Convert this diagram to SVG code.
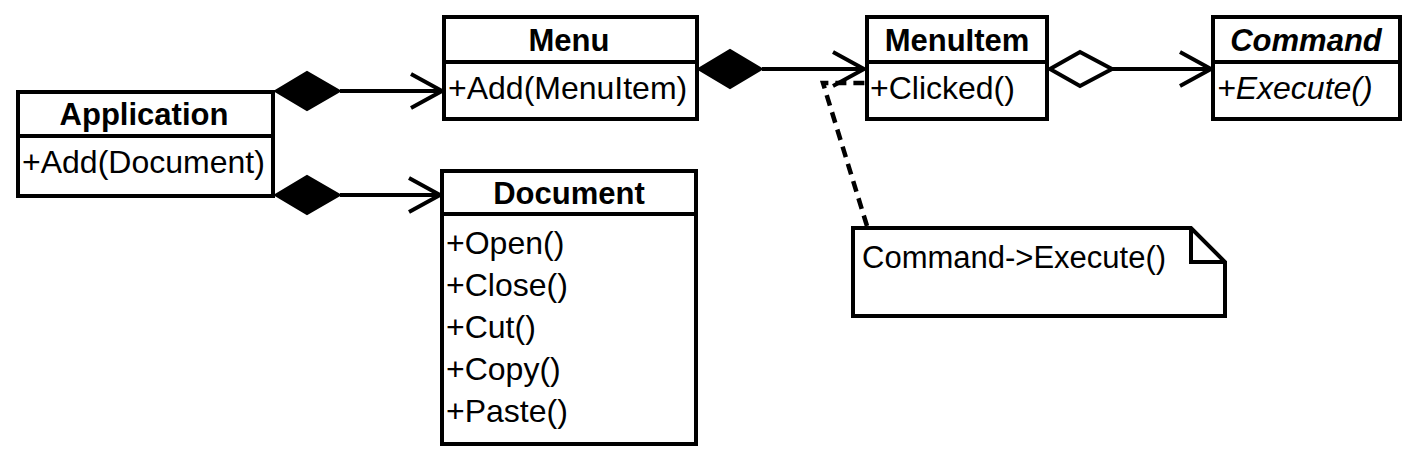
<svg xmlns="http://www.w3.org/2000/svg" width="1419" height="459" viewBox="0 0 1419 459">
<style>
.box{fill:#fff;stroke:#000;stroke-width:4}
.sep{stroke:#000;stroke-width:4}
.t{font-family:"Liberation Sans",Arial,sans-serif;font-size:32px;fill:#000}
.b{font-weight:bold;text-anchor:middle;font-size:31px}
.i{font-style:italic}
.ln{fill:none;stroke:#000;stroke-width:4}
.fd{fill:#000;stroke:#000;stroke-width:2}
.hd{fill:#fff;stroke:#000;stroke-width:4}
.ar{fill:none;stroke:#000;stroke-width:4;stroke-linejoin:miter}
.dash{fill:none;stroke:#000;stroke-width:4.5;stroke-dasharray:11 7}
</style>
<rect width="1419" height="459" fill="#fff"/>
<g id="connectors">
  <path class="ln" d="M340,91 H442"/>
  <path class="fd" d="M275,91 L307,72 L340,91 L307,110 Z"/>
  <path class="ar" d="M411,74 L442,91 L411,108"/>
  <path class="ln" d="M340,195 H440"/>
  <path class="fd" d="M275,195 L307,176 L340,195 L307,214 Z"/>
  <path class="ar" d="M409,178 L440,195 L409,212"/>
  <path class="ln" d="M762,69 H864"/>
  <path class="fd" d="M698,69 L730,50 L762,69 L730,88 Z"/>
  <path class="ar" d="M833,52 L864,69 L833,86"/>
  <path class="ln" d="M1112,69 H1211"/>
  <path class="hd" d="M1050,69 L1080,52 L1112,69 L1080,86 Z"/>
  <path class="ar" d="M1180,52 L1211,69 L1180,86"/>
  <path class="dash" d="M867,226 L823,83 L866,83"/>
</g>
<g id="Application">
  <rect class="box" x="18" y="92" width="255" height="104"/>
  <line class="sep" x1="18" y1="136" x2="273" y2="136"/>
  <text class="t b" x="144" y="125">Application</text>
  <text class="t" x="22" y="173">+Add(Document)</text>
</g>
<g id="Menu">
  <rect class="box" x="444" y="17" width="253" height="102"/>
  <line class="sep" x1="444" y1="62" x2="697" y2="62"/>
  <text class="t b" x="569" y="51">Menu</text>
  <text class="t" x="448" y="99">+Add(MenuItem)</text>
</g>
<g id="Document">
  <rect class="box" x="442" y="171" width="254" height="273"/>
  <line class="sep" x1="442" y1="214" x2="696" y2="214"/>
  <text class="t b" x="569" y="204">Document</text>
  <text class="t" x="446" y="254">+Open()</text>
  <text class="t" x="446" y="296">+Close()</text>
  <text class="t" x="446" y="338">+Cut()</text>
  <text class="t" x="446" y="380">+Copy()</text>
  <text class="t" x="446" y="422">+Paste()</text>
</g>
<g id="MenuItem">
  <rect class="box" x="867" y="17" width="180" height="102"/>
  <line class="sep" x1="867" y1="62" x2="1047" y2="62"/>
  <text class="t b" x="957" y="51">MenuItem</text>
  <text class="t" x="870" y="99">+Clicked()</text>
</g>
<g id="Command">
  <rect class="box" x="1213" y="17" width="187" height="102"/>
  <line class="sep" x1="1213" y1="62" x2="1400" y2="62"/>
  <text class="t b i" x="1306" y="51">Command</text>
  <text class="t i" x="1217" y="99">+Execute()</text>
</g>
<g id="Note">
  <path class="box" d="M853,228 H1191 L1225,262 V316 H853 Z"/>
  <path class="ln" d="M1191,228 V262 H1225"/>
  <text class="t" style="font-size:31px" x="862" y="268">Command-&gt;Execute()</text>
</g>
</svg>
